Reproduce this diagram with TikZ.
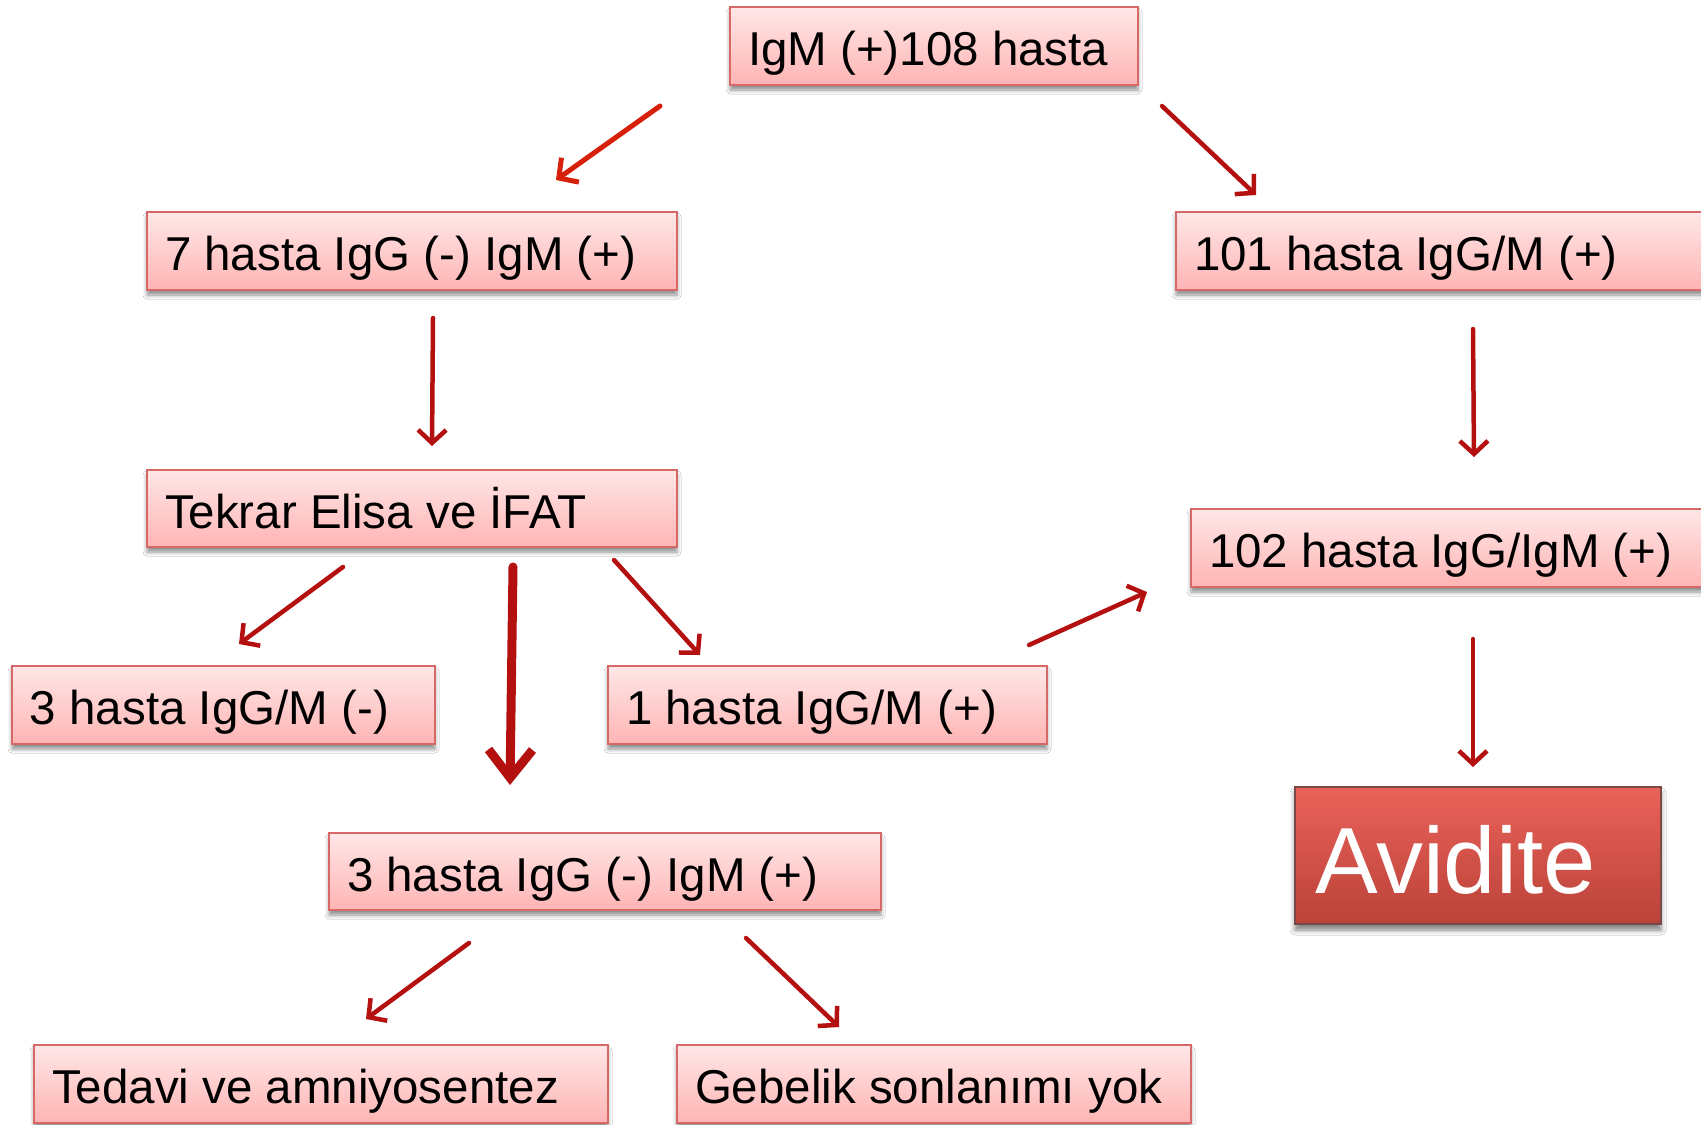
\documentclass[tikz,border=0pt]{standalone}
\usepackage{fontspec}
\setmainfont{Liberation Sans}
\usetikzlibrary{arrows.meta,shadows.blur}
\definecolor{pinktop}{RGB}{255,231,231}
\definecolor{pinkbot}{RGB}{255,180,180}
\definecolor{pinkline}{RGB}{214,104,104}
\definecolor{arrowred}{RGB}{180,16,16}
\definecolor{brightred}{RGB}{214,32,10}
\definecolor{avtop}{RGB}{234,98,90}
\definecolor{avbot}{RGB}{186,66,56}
\definecolor{avline}{RGB}{122,74,74}
\newcommand{\lbox}[2]{\makebox[#1pt][l]{#2}}
\begin{document}
\begin{tikzpicture}[x=1pt,y=-1pt,
  box/.style={rectangle, draw=pinkline, line width=2pt, top color=pinktop, bottom color=pinkbot,
    anchor=north west, inner xsep=18pt, inner ysep=0pt,
    font=\fontsize{47.5}{56}\selectfont, text height=47pt, text depth=8pt,
    blur shadow={shadow xshift=0pt, shadow yshift=-5pt, shadow blur radius=4pt, shadow opacity=45}},
  avbox/.style={rectangle, draw=avline, line width=2pt, top color=avtop, bottom color=avbot,
    anchor=north west, inner xsep=20pt, inner ysep=0pt, text=white,
    font=\fontsize{94}{110}\selectfont, text height=94pt, text depth=19pt,
    blur shadow={shadow xshift=0pt, shadow yshift=-6pt, shadow blur radius=5pt, shadow opacity=50}},
  thinarr/.style={draw=arrowred, line width=4.5pt, line cap=round, -{Straight Barb[length=13pt,width=28pt]}},
  brightarr/.style={draw=brightred, line width=5pt, line cap=round, -{Straight Barb[length=14pt,width=30pt]}},
  thickarr/.style={draw=arrowred, line width=9pt, line cap=round, -{Straight Barb[length=28pt,width=44pt]}},
]
\clip (0,0) rectangle (1701,1125);
\fill[white] (0,0) rectangle (1701,1125);

\node[box, minimum width=408pt, minimum height=78pt] (top) at (729,6) {\lbox{372}{IgM (+)108 hasta}};
\node[box, minimum width=530pt, minimum height=78pt] (n7) at (146,211) {\lbox{494}{7 hasta IgG (-) IgM (+)}};
\node[box, minimum width=560pt, minimum height=78pt] (n101) at (1175,211) {\lbox{524}{101 hasta IgG/M (+)}};
\node[box, minimum width=530pt, minimum height=77pt] (tekrar) at (146,469) {\lbox{494}{Tekrar Elisa ve İFAT}};
\node[box, minimum width=545pt, minimum height=78pt] (n102) at (1190,508) {\lbox{509}{102 hasta IgG/IgM (+)}};
\node[box, minimum width=423pt, minimum height=78pt] (n3neg) at (11,665) {\lbox{387}{3 hasta IgG/M (-)}};
\node[box, minimum width=439pt, minimum height=78pt] (n1pos) at (607,665) {\lbox{403}{1 hasta IgG/M (+)}};
\node[box, minimum width=552pt, minimum height=77pt] (n3pos) at (328,832) {\lbox{516}{3 hasta IgG (-) IgM (+)}};
\node[box, minimum width=574pt, minimum height=78pt] (tedavi) at (33,1044) {\lbox{538}{Tedavi ve amniyosentez}};
\node[box, minimum width=514pt, minimum height=78pt] (gebelik) at (676,1044) {\lbox{478}{Gebelik sonlanımı yok}};
\node[avbox, minimum width=366pt, minimum height=137pt] (avidite) at (1294,786) {\lbox{326}{Avidite}};

\coordinate (as) at (660,106);  \coordinate (ae) at (556,180);
\coordinate (bs) at (1162,106); \coordinate (be) at (1256,195);
\coordinate (cs) at (433,318);  \coordinate (ce) at (432,446);
\coordinate (ds) at (1473,329); \coordinate (de) at (1474,457);
\coordinate (es) at (343,567);  \coordinate (ee) at (239,644);
\coordinate (fs) at (513,567);  \coordinate (fe) at (510,785);
\coordinate (gs) at (614,560);  \coordinate (ge) at (700,655);
\coordinate (hs) at (1029,645); \coordinate (he) at (1147,592);
\coordinate (is) at (1473,639); \coordinate (ie) at (1473,767);
\coordinate (js) at (469,943);  \coordinate (je) at (366,1019);
\coordinate (ks) at (746,938);  \coordinate (ke) at (839,1027);

\draw[brightarr] (as) -- (ae);
\draw[thinarr] (bs) -- (be);
\draw[thinarr] (cs) -- (ce);
\draw[thinarr] (ds) -- (de);
\draw[thinarr] (es) -- (ee);
\draw[thickarr] (fs) -- (fe);
\draw[thinarr] (gs) -- (ge);
\draw[thinarr] (hs) -- (he);
\draw[thinarr] (is) -- (ie);
\draw[thinarr] (js) -- (je);
\draw[thinarr] (ks) -- (ke);
\end{tikzpicture}
\end{document}
